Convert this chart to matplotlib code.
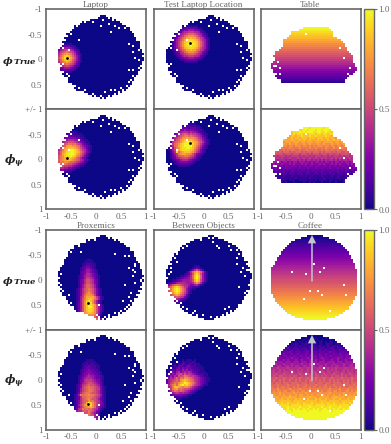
import numpy as np
import matplotlib
matplotlib.use('Agg')
from matplotlib import pyplot as plt

plt.rcParams['font.family'] = ['Liberation Serif', 'DejaVu Serif']
plt.rcParams['mathtext.fontset'] = 'dejavuserif'

GRID = 50
TICKS = [-1, -0.5, 0, 0.5, 1]
TICK_LABELS = ['-1', '-0.5', '0', '0.5', '1']
TITLES_TOP = ['Laptop', 'Test Laptop Location', 'Table']
TITLES_BOTTOM = ['Proxemics', 'Between Objects', 'Coffee']

# start/end column of every filled row, first entry is row 3
DISC_SPANS = [(27, 30), (24, 33), (20, 36), (18, 38), (16, 39), (14, 41), (13, 42), (12, 43), (11, 44), (10, 44),
              (10, 45), (9, 45), (9, 46), (8, 47), (8, 47), (7, 47), (7, 48), (6, 48), (6, 48), (6, 49), (6, 49),
              (6, 49), (6, 49), (6, 48), (6, 48), (7, 48), (7, 48), (7, 47), (8, 47), (8, 46), (9, 46), (10, 45),
              (10, 44), (11, 44), (12, 43), (13, 42), (14, 41), (15, 40), (17, 38), (19, 36), (22, 33), (25, 30)]
COFFEE_SPANS = [(23, 31), (20, 34), (17, 37), (15, 38), (14, 40), (13, 41), (12, 42), (11, 43), (10, 44), (10, 44),
                (9, 45), (8, 45), (8, 46), (7, 46), (7, 47), (6, 47), (5, 47), (5, 48), (5, 48), (5, 48), (5, 48),
                (5, 48), (5, 48), (5, 48), (5, 48), (5, 48), (5, 48), (5, 48), (5, 48), (6, 48), (6, 47), (7, 47),
                (7, 46), (8, 46), (9, 45), (10, 44), (11, 44), (12, 42), (13, 41), (15, 39), (17, 37), (21, 33)]
# first entry is row 9
TABLE_SPANS = [(21, 34), (19, 35), (15, 36), (15, 36), (14, 37), (13, 38), (11, 40), (11, 41), (11, 42), (11, 42),
               (10, 43), (9, 43), (7, 44), (7, 45), (6, 46), (7, 46), (7, 46), (6, 46), (5, 47), (5, 47), (5, 48),
               (6, 48), (6, 47), (7, 46), (7, 45), (8, 44), (10, 42), (10, 42)]

LAPTOP_HOLES = [(6, 19), (6, 23), (5, 28), (8, 27), (7, 31), (8, 34), (11, 32), (9, 36), (9, 39), (17, 41), (18, 43),
                (20, 46), (21, 43), (24, 44), (25, 46), (29, 46), (30, 43), (30, 41), (33, 43), (35, 42), (36, 41),
                (32, 10), (33, 11), (36, 10), (38, 14), (39, 16), (40, 19), (42, 19), (42, 23), (44, 25), (41, 29),
                (40, 32), (40, 34), (39, 37), (15, 16), (12, 12), (13, 9), (20, 11), (27, 8), (4, 25),
                (4, 24), (5, 20), (5, 21), (7, 16), (8, 15), (9, 13), (10, 12), (11, 11), (13, 10), (15, 9), (17, 8),
                (18, 7), (19, 8), (27, 6), (28, 7), (31, 8), (34, 10), (35, 10), (37, 12), (38, 13), (41, 17),
                (41, 18), (42, 20), (43, 22), (43, 24), (43, 27), (44, 26), (44, 28), (43, 31), (42, 34), (41, 36),
                (40, 38), (38, 40), (36, 43), (34, 44), (33, 45), (31, 46), (28, 47), (23, 48), (19, 47), (15, 45),
                (13, 44), (11, 43), (10, 42), (8, 40), (7, 38), (6, 37), (5, 35), (5, 33), (4, 31)]
PROX_HOLES = [(4, 21), (6, 18), (6, 19), (8, 16), (5, 24), (12, 34), (11, 17), (13, 39), (13, 41), (17, 44), (18, 44),
              (19, 41), (20, 43), (21, 44), (23, 43), (25, 47), (26, 44), (27, 39), (31, 42), (33, 41), (35, 38),
              (35, 42), (37, 41), (37, 26), (41, 34), (42, 31), (43, 29), (13, 10), (14, 9), (15, 8), (18, 7), (22, 7),
              (26, 6), (32, 11), (36, 12), (38, 13), (41, 17), (41, 18), (42, 19), (42, 20), (43, 22), (43, 23),
              (42, 25), (43, 26), (44, 28), (4, 31), (4, 24), (5, 21), (5, 34), (6, 37), (7, 16), (8, 40), (9, 13),
              (10, 42), (11, 12), (12, 10), (13, 44), (15, 45), (16, 46), (19, 47), (22, 48), (24, 48), (28, 47),
              (30, 46), (32, 45), (34, 44), (36, 43), (38, 40), (39, 39), (40, 37), (16, 8), (17, 8), (20, 6),
              (24, 6), (27, 7), (29, 7), (30, 8), (33, 9), (35, 10), (41, 36), (43, 31), (44, 26)]
BETWEEN_HOLES = [(4, 20), (5, 23), (4, 27), (4, 29), (7, 15), (9, 14), (6, 29), (8, 31), (9, 32), (8, 37), (10, 38),
                 (10, 41), (14, 41), (17, 41), (19, 44), (21, 43), (23, 45), (20, 46), (28, 42), (31, 45), (13, 7),
                 (15, 6), (16, 11), (21, 8), (23, 5), (36, 13), (38, 14), (40, 20), (42, 24), (43, 28), (43, 20),
                 (38, 37), (39, 35), (31, 8), (33, 9), (4, 32), (5, 35), (6, 37), (8, 16), (10, 12), (11, 11),
                 (12, 42), (13, 44), (15, 45), (17, 46), (20, 47), (25, 48), (27, 47), (30, 46), (33, 45), (35, 44),
                 (37, 42), (40, 38), (41, 36), (42, 34), (43, 31), (42, 21), (41, 19), (39, 16), (37, 12), (35, 11),
                 (34, 10), (29, 7), (27, 6), (24, 6), (22, 7), (19, 8), (17, 8), (14, 10), (12, 11)]
TABLE_HOLES = [(12, 22), (13, 36), (19, 39), (24, 41), (29, 44), (26, 8), (28, 6), (28, 7), (31, 5), (32, 7), (32, 9),
               (29, 9), (32, 43), (33, 44), (35, 42), (36, 44), (34, 43), (36, 43)]
COFFEE_HOLES = [(17, 26), (21, 15), (22, 22), (21, 29), (19, 31), (27, 41), (30, 24), (30, 28), (32, 30), (32, 42),
                (34, 21), (40, 34)]

# hot spots, one hex digit per cell (0 to f)
LAPTOP_TRUE = ['000011111000000', '001223332210000', '012345554321000', '123567876532100', '235789a98753200',
               '2468abcba864210', '3579bdedb975310', '358acefeca85310', '3579bdedb975310', '2468abcba864210',
               '235789a98753200', '123567876532100', '012345554321000', '001223332210000', '000011111000000']
LAPTOP_PRED = ['0000011111100000000', '0000112221111000000', '0001223332221100000', '0012344444332110000',
               '0123456665543211000', '1235678887654321100', '235789aa9a876432100', '35689bccbba97543210',
               '4679bcdddcba8653210', '468acdeffedb9764210', '579bceeffedca864310', '579cdefffecb975310',
               '68abdeefedba864210', '78abcdedcb98643100', '79abccdcba986532100', '68aabba998765421000',
               '5799a98876543210000', '4688776654321100000', '3566554432110000000', '2344332211000000000',
               '1122211100000000000']
TEST_TRUE = ['0000001111111000000', '0000112333332110000', '0001234455544321000', '0012356677766532100',
             '0123567899987653210', '0134679abbba9764310', '124679accdcca976421', '13568acdeeedca86531',
             '13579bdeefeedb97531', '13579bdefffedb97531', '13579bdeefeedb97531', '13568acdeeedca86531',
             '124679accdcca976421', '0134679abbba9764310', '0123567899987653210', '0012356677766532100',
             '0001234455544321000', '0000112333332110000', '0000001111111000000']
TEST_PRED = ['00000000011111000000000', '00000011222222110000000', '00001123332333221000000', '00012344544443322100000',
             '00123556665655432110000', '00234678987877654211000', '01345789aa9a98765321000', '0146789bbcbbba976431000',
             '025689bcddcdcba87532100', '13689abdeffedcb98642100', '2479abdefffeecb97532100', '2469acdeffffdca86421000',
             '1358abdeeffedb975321000', '1257bcdeeeedca864210000', '0246e9bcdddcb9754210000', '01357abccbba86432100000',
             '01346899aa9875321000000', '01235678887654211000000', '00123456665432110000000', '00012344443321000000000',
             '00011222222110000000000', '00000111111000000000000']
PROX_TRUE = ['000000111000000', '000001111100000', '000011222110000', '000012332210000', '000123443210000',
             '000123554321000', '000234554321000', '000234665432000', '001235665432100', '001235776532100',
             '001346887643100', '001346887643100', '001357998753100', '001357998753100', '0124689a9864210',
             '0124689a9864210', '012468aba864210', '012479bbba74210', '01257acccca7521', '01258acddca8521',
             '01258bdedb85210', '01358beeeb85310', '01358bdfedb8531', '01358bdffdb8531', '01358bdeedb8531',
             '01358bdeedb8531', '00258bcddcb8520', '00147abbbba7410', '00000abbbb97500', '0000000a98a9640',
             '00000000000075']
PROX_PRED = ['00000001111000000', '00000011111100000', '00000112122110000', '00000122322211000', '00000123332211000',
             '00001233433221000', '00001234443322100', '00001344544332100', '00012345655433210', '00012456665433210',
             '00013467776544210', '00013567887654310', '00124678988765310', '00124789a99876421', '00125789aa9877421',
             '00125789aa9876421', '0013689aa98876421', '0125a9aabaa987521', '0123699aaa9876421', '0123689ab98875321',
             '01246899baa876421', '0124689cfdb976431', '012579bdfeb975431', '012468abcdb965321', '01367a9a9a8764210',
             '02566898a98643100', '04677888a86532000', '0005888aa88543000', '0000006687864000', '00000000466854000',
             '00000000000540000']
BETWEEN_TRUE = ['000000000000000111000000', '000000000000001232100000', '000000000000024686420000',
                '000000000001369bdb963100', '000000000012358cec853100', '000000001123469dfd953100',
                '000000112344569dfd953100', '000011234555568cec853100', '0012345666655569b9631000',
                '024689a9876654456421000', '3579bdedb976432221000000', '468acefeca85321100000000',
                '468acefeca85310000000000', '3579bdedb975210000000000', '24689bcb9863100000000000',
                '124678987642100000000000', '012345654321000000000000', '001123432110000000000000',
                '000001210000000000000000']
BETWEEN_PRED = ['000000001011101000000000', '000000102111121000000000', '000010213212212110000000',
                '000121332134222111000000', '001113424343322211100000', '011324435453432221100000',
                '012435645656533211110000', '123546786867654322211000', '135465878a98776543211000',
                '2465797a9bba986654321100', '2567898bcdcba97654321100', '3578a9bcdfedba8654321000',
                '368ab9cefdecb97654211000', '257addcbabba865432100000', '247abc9a98876543210000000',
                '1368a98987654321000000000', '023567656554321000000000', '012344443321100000000000',
                '001212221110000000000000', '000101110000000000000000']

# row by row values, first entry is the top row of the shape
TABLE_TRUE = [1.0, .97, .93, .90, .87, .84, .80, .77, .73, .70, .67, .63, .59, .56, .53, .49, .46, .42, .39, .35,
              .32, .28, .25, .21, .18, .14, .10, .06]
COFFEE_TRUE = [.01, .03, .05, .07, .10, .12, .15, .17, .19, .22, .24, .26, .29, .31, .33, .36, .38, .41, .43, .45,
               .48, .50, .53, .55, .58, .60, .63, .65, .68, .70, .73, .75, .78, .81, .83, .86, .88, .91, .93, .96,
               .98, 1.0]
TABLE_PRED = ['ddddddddddddddddfffeffffffefffdddddddddddddd', 'ddddddddddddddeeffefffeffefffeedddddddddddd',
              'dddddddddddeeefefefffeeffeefeedddddddddddddd', 'ccccccccccdedeeededeeedeedeedeedcccccccccccc',
              'ccccccccccddcddedddeddeddddeddcccccccccccccc', 'bbbbbbbbccdcddcdddcdddcdddcddcdcbbbbbbbbbbbb',
              'bbbbbcdcccdcccdcdccdcccdcdccdccdcdcbbbbbbbbb', 'bbbbbcbcccbcccbccbcccbcccbcccccbccbcbbbbbbbb',
              'aaaaabcbbcbbcbbbcbbcbbbcbbcbbbcbbcbbcaaaaaaa', 'aaaaaabbabbabbbabbabababbbabbabbabbabaaaaaaa',
              'aaaaabaaabaaaabaaaabaabaaaabaaabaaabaaaaaaaa', '999999a9a9aa99a99aa9a9a99a9aa9a99a99a9a9a999',
              '88989899989899989899899989899989899889898888', '88888878887888788878788878887887887888878888',
              '77767776767777676776767776776767776767767777', '66676766676667667667667667676676767676676666',
              '66656665656665656566565656565665656566566566', '55555455454554555454545545455454554545545555',
              '45454544454544454544544454544454545444545454', '44344434434443434434434443443434434443434444',
              '33433334343333433343334334333433343334333433', '32333232323323233232332323323233232323323233',
              '22322232223222322232223223222322232223222322', '22212222122212221222122212221222122212221222',
              '11211121112111121211211112111121121112111211', '11111211111121111112111111211111121111112111',
              '11101111011100111101101011110110101011100110', '01000101000100001001010001000100100010001010']
COFFEE_PRED = ['00000000000000000000100000000000100000000000', '00000100000010000100001000010000000100000100',
               '01001000110001001010000101000100100001001000', '10110101011010110101101011010110100101101011',
               '11012111101121011210111011012110111201110111', '12111212111121211112121121112112121111211211',
               '21222122321222122212322122212232122212212221', '22322232223223222322322232232223223223222322',
               '32333233343233323342333233323433323333233323', '33433343334334333433433343343334334333433343',
               '34344344343443443434344344343443434434434434', '44454434445444344454444345444344454434454445',
               '45444454544454454445445444544454454445444544', '54555545554555455545555455545555455545555455',
               '55655565556555565556555655565556555565556555', '65566556656566556656565566565565665565566565',
               '66676666766666766676666676667666766667666766', '67667676677667676676766767667676766676767676',
               '77677677767767776776777677767767776776777677', '77877787778777877787778777877778777877787778',
               '78778878787887787878778878787787887878778787', '88988898889888988898889888988898888988889888',
               '89889898898898988989889898988989898898989889', '98999899989999899989998999899989999899989998',
               '999a9999a9999a999a9999a9999a999a9999a9999a99', 'a99a9aa9a99a9a99aa9a9a99a9aa9a99a9a9a99aa9a9',
               'aaabaaaaabaaaabaaaabaaabaaaaabaaaabaaabaaaaa', 'ababbabbaabbababbabbaabbabaabbabbabaabbababb',
               'bbbbcbbbbbbcbbbbbcbbbbbbcbbbbcbbbbbbcbbbbbcb', 'bcbbcbcbbcbbcbccbbcbcbbcbbcbcbbcbbcbcbbcbcbb',
               'ccccbccccdcccbcccccdcccbcccccbccdccccbcccccc', 'cdcccdccdcccdcdcccdcccdcdccdcccdccdcccdccdcc',
               'dddcddddddcdddddcddddddcddddcdddddcddddddcdd', 'dedddeddeddddeddedddeddddeddeddeddddeddedddd',
               'eeedeeeeedeeeeedeeeeedeeeeedeeeeedeeeeedeeee', 'eeefeeeefeeeeefeeeefeeeeefeeefeeeefeeeefeeee',
               'efefefeefeefefeefefeefefeeffefefefeefefeffef', 'fffeffffffefffffffefffffefffffefffffffefffff',
               'ffffffffffffffffffffffffffffffffffffffffffff', 'ffffffffffffffffffffffffffffffffffffffffffff',
               'ffffffffffffffffffffffffffffffffffffffffffff', 'ffffffffffffffffffffffffffffffffffffffffffff']

DOTS_TOP = [(-0.587, -0.024), (-0.27, -0.336)]
DOT_PROX = (-0.17, 0.47)


def blank(spans, first_row, holes):
    z = np.full((GRID, GRID), np.nan)
    for i, (a, b) in enumerate(spans):
        z[first_row + i, a:b] = 0.0
    for r, c in holes:
        z[r, c] = np.nan
    return z


def paint(z, row0, col0, rows):
    # hex digits become values between 0 and 1, empty cells stay empty
    for i, line in enumerate(rows):
        for j, ch in enumerate(line):
            if not np.isnan(z[row0 + i, col0 + j]):
                z[row0 + i, col0 + j] = int(ch, 16) / 15.0
    return z


def by_row(spans, first_row, holes, values):
    z = blank(spans, first_row, holes)
    for i, v in enumerate(values):
        z[first_row + i][~np.isnan(z[first_row + i])] = v
    return z


panels = [
    [paint(blank(DISC_SPANS, 3, LAPTOP_HOLES), 17, 4, LAPTOP_TRUE),
     paint(blank(DISC_SPANS, 3, LAPTOP_HOLES), 8, 9, TEST_TRUE),
     by_row(TABLE_SPANS, 9, TABLE_HOLES, TABLE_TRUE)],
    [paint(blank(DISC_SPANS, 3, LAPTOP_HOLES), 11, 5, LAPTOP_PRED),
     paint(blank(DISC_SPANS, 3, LAPTOP_HOLES), 7, 7, TEST_PRED),
     paint(blank(TABLE_SPANS, 9, TABLE_HOLES), 9, 5, TABLE_PRED)],
    [paint(blank(DISC_SPANS, 3, PROX_HOLES), 15, 14, PROX_TRUE),
     paint(blank(DISC_SPANS, 3, BETWEEN_HOLES), 18, 5, BETWEEN_TRUE),
     by_row(COFFEE_SPANS, 3, COFFEE_HOLES, COFFEE_TRUE)],
    [paint(blank(DISC_SPANS, 3, PROX_HOLES), 15, 13, PROX_PRED),
     paint(blank(DISC_SPANS, 3, BETWEEN_HOLES), 15, 6, BETWEEN_PRED),
     paint(blank(COFFEE_SPANS, 3, COFFEE_HOLES), 3, 5, COFFEE_PRED)],
]

W, H = 391, 444
GRAY = '#666666'
LEFTS = [46, 153.5, 260.5]
TOPS = [9.5, 109.5, 230, 330]
SIZE = 100


def px_axes(left, top, w, h):
    return fig.add_axes([left / W, 1 - (top + h) / H, w / W, h / H])


fig = plt.figure(figsize=(W / 100, H / 100), dpi=100)
cmap = plt.get_cmap('plasma').copy()
cmap.set_bad((1, 1, 1, 0))

for i, top in enumerate(TOPS):
    for j, left in enumerate(LEFTS):
        ax = px_axes(left, top, SIZE, SIZE)
        im = ax.imshow(np.ma.masked_invalid(panels[i][j]), cmap=cmap, vmin=0, vmax=1, extent=(-1, 1, 1, -1),
                       interpolation='nearest', aspect='auto')
        ax.set_xlim(-1, 1)
        ax.set_ylim(1, -1)
        for s in ax.spines.values():
            s.set_color(GRAY)
            s.set_linewidth(1.2)
        ax.tick_params(length=0, labelsize=6.6, labelcolor=GRAY, pad=2.5)
        if i % 2 == 1:
            ax.set_xticks(TICKS, TICK_LABELS)
        else:
            ax.set_xticks([])
            title = (TITLES_TOP if i == 0 else TITLES_BOTTOM)[j]
            ax.set_title(title, fontsize=6.6, color=GRAY, pad=1.5)
        if j == 0:
            if i % 2 == 0:
                ax.set_yticks(TICKS[:4], TICK_LABELS[:4])
            else:
                ax.set_yticks(TICKS, ['+/- 1'] + TICK_LABELS[1:])
        else:
            ax.set_yticks([])
        if j == 0 and i < 2:
            ax.scatter(*DOTS_TOP[0], s=4, c='black', zorder=3, linewidths=0)
        if j == 1 and i < 2:
            ax.scatter(*DOTS_TOP[1], s=4, c='black', zorder=3, linewidths=0)
        if j == 0 and i >= 2:
            ax.scatter(*DOT_PROX, s=4, c='black', zorder=3, linewidths=0)
        if j == 2 and i >= 2:
            ax.annotate('', xy=(0.03, -0.9), xytext=(0.03, 0.03),
                        arrowprops=dict(width=1.1, headwidth=6, headlength=6, color='#c4c4cc', lw=0))

for top in [9.5, 230]:
    cax = px_axes(364, top, 10, 200)
    cb = fig.colorbar(im, cax=cax)
    cb.set_ticks([0, 0.5, 1], labels=['0.0', '0.5', '1.0'])
    cb.ax.tick_params(length=2, width=0.8, color=GRAY, labelsize=6.6, labelcolor=GRAY, pad=1)
    cb.outline.set_edgecolor(GRAY)
    cb.outline.set_linewidth(1)

# row labels, two texts so the phi can stay bigger than the word next to it
for y in [61, 281.5]:
    fig.text(2 / W, 1 - y / H, r'$\mathbfit{\phi}$', fontsize=7.5, color='#222222', ha='left', va='center')
    fig.text(13.5 / W, 1 - y / H, r'$\mathbfit{True}$', fontsize=6, color='#222222', ha='left', va='center')
for y in [161, 381.5]:
    fig.text(4 / W, 1 - y / H, r'$\mathbfit{\phi_{\psi}}$', fontsize=8, color='#222222', ha='left', va='center')

fig.savefig('out.png', dpi=100)
